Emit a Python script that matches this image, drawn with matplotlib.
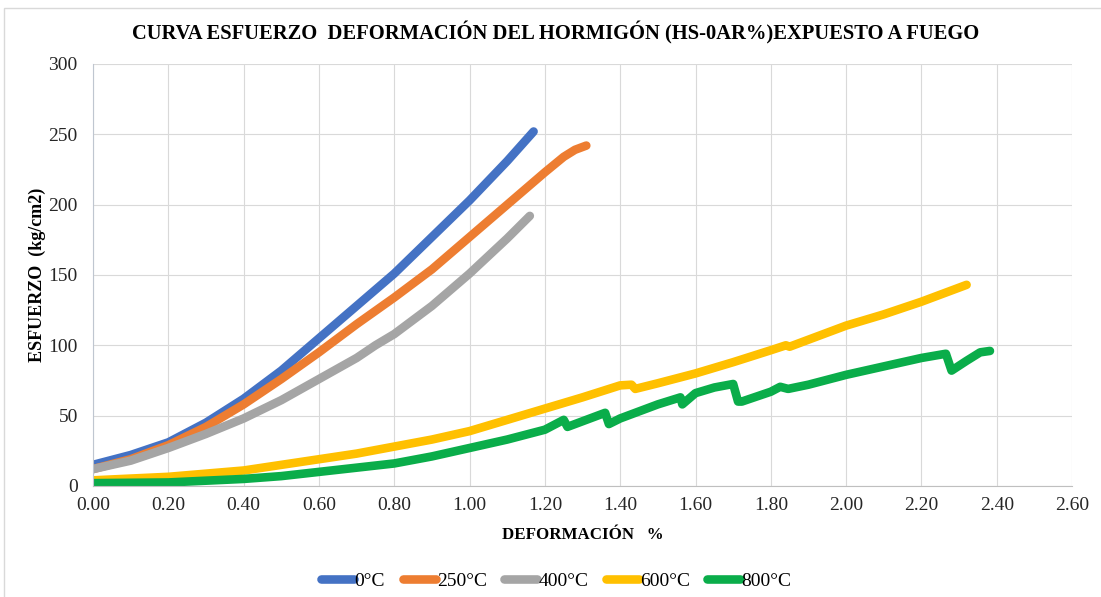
import numpy as np
import matplotlib.pyplot as plt
from matplotlib.patches import Rectangle

plt.rcParams['font.family'] = ['Liberation Serif', 'DejaVu Serif']

# Deformación (%) y esfuerzo (kg/cm2) por temperatura
def_0 = [0.00, 0.10, 0.20, 0.30, 0.40, 0.50, 0.60, 0.70, 0.80, 0.90, 1.00, 1.10, 1.17]
esf_0 = [15, 22, 31, 45, 62, 82, 105, 128, 151, 177, 203, 231, 252]

def_250 = [0.00, 0.10, 0.20, 0.30, 0.40, 0.50, 0.60, 0.70, 0.80, 0.90, 1.00, 1.10, 1.20, 1.25, 1.28, 1.31]
esf_250 = [12, 19, 29, 42, 58, 76, 95, 115, 134, 154, 177, 200, 223, 234, 239, 242]

def_400 = [0.00, 0.10, 0.20, 0.30, 0.40, 0.50, 0.60, 0.70, 0.75, 0.80, 0.90, 1.00, 1.10, 1.16]
esf_400 = [12, 18, 27, 37, 48, 61, 76, 91, 100, 108, 128, 151, 176, 192]

def_600 = [0.00, 0.20, 0.40, 0.60, 0.70, 0.80, 0.90, 1.00, 1.10, 1.20, 1.30, 1.40, 1.43,
           1.44, 1.50, 1.60, 1.70, 1.80, 1.84, 1.85, 1.90, 2.00, 2.10, 2.20, 2.30, 2.32]
esf_600 = [4, 6.5, 11, 19, 23, 28, 33, 39, 47, 55, 63, 71.5, 72,
           69, 73, 80, 88, 96.5, 100, 99, 104, 114, 122, 131, 141, 143]

def_800 = [0.00, 0.20, 0.40, 0.50, 0.60, 0.70, 0.80, 0.90, 1.00, 1.10, 1.20, 1.25, 1.26,
           1.30, 1.36, 1.37, 1.40, 1.50, 1.56, 1.565, 1.60, 1.65, 1.70, 1.713, 1.723,
           1.80, 1.825, 1.846, 1.90, 2.00, 2.10, 2.20, 2.265, 2.28, 2.32, 2.356, 2.382]
esf_800 = [2, 2.5, 5, 7, 10, 13, 16, 21, 27, 33, 40, 47, 42,
           46, 52, 44, 48, 58, 63, 58, 66, 70, 72.5, 60, 60,
           67, 70.5, 69, 72, 79, 85, 91, 94, 82, 89, 95, 96]

series = [
    ('0°C', def_0, esf_0, '#4472C4'),
    ('250°C', def_250, esf_250, '#ED7D31'),
    ('400°C', def_400, esf_400, '#A5A5A5'),
    ('600°C', def_600, esf_600, '#FFC000'),
    ('800°C', def_800, esf_800, '#0AAD4A'),
]

fig = plt.figure(figsize=(11.01, 5.97), dpi=100)
ax = fig.add_axes([0.0845, 0.186, 0.8892, 0.7068])

for name, x, y, c in series:
    ax.plot(x, y, color=c, lw=6.2, solid_capstyle='round', solid_joinstyle='round', label=name)

ax.set_xlim(0, 2.6)
ax.set_ylim(0, 300)
ax.set_xticks(np.arange(0, 2.61, 0.2))
ax.set_xticklabels(['%.2f' % v for v in np.arange(0, 2.61, 0.2)])
ax.set_yticks(np.arange(0, 301, 50))
ax.grid(True, color='#d9d9d9', lw=0.8)
ax.set_axisbelow(True)
ax.tick_params(length=0, labelsize=14, colors='#262626')
ax.tick_params(axis='y', pad=11)
ax.tick_params(axis='x', pad=8)
for s in ['top', 'right']:
    ax.spines[s].set_visible(False)
ax.spines['left'].set_color('#bfc6d0')
ax.spines['bottom'].set_color('#bfbfbf')

fig.text(0.505, 0.945, 'CURVA ESFUERZO  DEFORMACIÓN DEL HORMIGÓN (HS-0AR%)EXPUESTO A FUEGO',
         fontsize=14.8, fontweight='bold', ha='center', va='center')
ax.set_xlabel('DEFORMACIÓN   %', fontsize=12.2, fontweight='bold', labelpad=9)
ax.set_ylabel('ESFUERZO  (kg/cm2)', fontsize=13, fontweight='bold', labelpad=2)

fig.legend(loc='center', bbox_to_anchor=(0.505, 0.027), ncol=5, frameon=False,
           fontsize=14, handlelength=1.7, handletextpad=0.05, columnspacing=0.9)

# borde exterior del gráfico
fig.patches.append(Rectangle((0.004, -0.01), 1.0, 0.997, transform=fig.transFigure,
                             fill=False, edgecolor='#d9d9d9', lw=1))

fig.savefig('out.png', dpi=100)
